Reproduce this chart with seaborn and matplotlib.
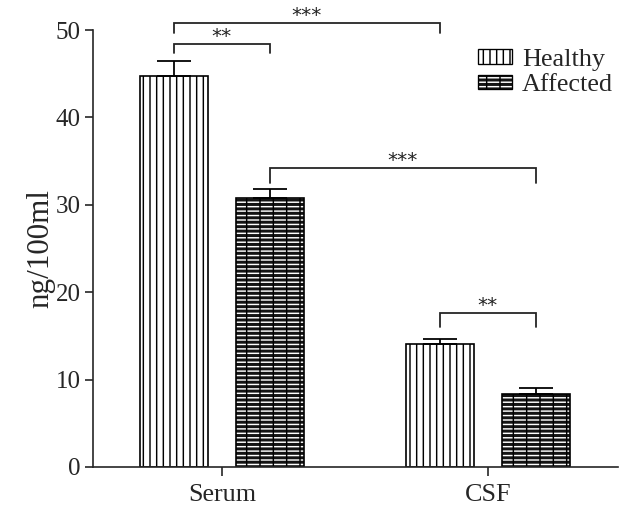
import numpy as np
import pandas as pd
import matplotlib
matplotlib.use("Agg")
import matplotlib.pyplot as plt
from matplotlib.patches import Patch, Rectangle
from matplotlib.legend_handler import HandlerTuple
import seaborn as sns

# values
tissues = ["Serum", "CSF"]
groups = ["Healthy", "Affected"]
healthy_mean = [44.7, 14.1]
healthy_sem = [1.8, 0.55]
affected_mean = [30.8, 8.35]
affected_sem = [1.0, 0.7]

# significance brackets: (group_a, tissue_a, group_b, tissue_b, line y, leg bottom, label)
brackets = [
    ("Healthy", "Serum", "Healthy", "CSF", 50.8, 49.7, "***"),
    ("Healthy", "Serum", "Affected", "Serum", 48.4, 47.4, "**"),
    ("Affected", "Serum", "Affected", "CSF", 34.2, 32.5, "***"),
    ("Healthy", "CSF", "Affected", "CSF", 17.6, 16.0, "**"),
]

sns.set_style("ticks")
plt.rcParams["font.family"] = ["Liberation Serif", "DejaVu Serif"]
plt.rcParams["hatch.linewidth"] = 1.3

df = pd.DataFrame({
    "tissue": tissues * 2,
    "group": ["Healthy"] * 2 + ["Affected"] * 2,
    "value": healthy_mean + affected_mean,
    "sem": healthy_sem + affected_sem,
})

fig = plt.figure(figsize=(7.85, 6.325), dpi=80)
ax = fig.add_axes([0.148, 0.0771, 0.836, 0.8636])

sns.barplot(data=df, x="tissue", y="value", hue="group", order=tissues,
            hue_order=groups, width=0.72, gap=0.29, errorbar=None,
            legend=False, ax=ax)

centers = {}
for grp, cont in zip(groups, ax.containers):
    for tis, p in zip(tissues, cont.patches):
        cx = p.get_x() + p.get_width() / 2
        centers[(grp, tis)] = cx
        if grp == "Healthy":
            p.set_facecolor("white")
            p.set_edgecolor("black")
            p.set_linewidth(1.5)
            p.set_hatch("||")
        else:
            # dark brick-like fill: white rows broken by black verticals
            p.set_facecolor("#141414")
            p.set_edgecolor("white")
            p.set_linewidth(0)
            p.set_hatch("---")
            ax.add_patch(Rectangle(p.get_xy(), p.get_width(), p.get_height(),
                                   facecolor="none", edgecolor="black",
                                   linewidth=1.5, hatch="|", zorder=p.get_zorder() + 0.1))

# upper error bars only
for grp, means, sems in [("Healthy", healthy_mean, healthy_sem),
                         ("Affected", affected_mean, affected_sem)]:
    xs = [centers[(grp, t)] for t in tissues]
    ax.errorbar(xs, means, yerr=[np.zeros(len(sems)), sems], fmt="none",
                ecolor="black", elinewidth=1.6, capsize=15.5, capthick=1.6,
                zorder=1)

for ga, ta, gb, tb, y, y0, lab in brackets:
    x1, x2 = centers[(ga, ta)], centers[(gb, tb)]
    ax.plot([x1, x1, x2, x2], [y0, y, y, y0], color="#222222", lw=1.6,
            clip_on=False, solid_joinstyle="miter")
    ax.text((x1 + x2) / 2, y + 0.85, lab, ha="center", va="center",
            fontsize=18, family="DejaVu Sans", color="#222222")

ax.set_xlim(-0.485, 1.49)
ax.set_ylim(0, 50)
ax.set_yticks([0, 10, 20, 30, 40, 50])
ax.set_xlabel("")
ax.set_ylabel("ng/100ml", fontsize=28, labelpad=0)
ax.tick_params(axis="y", labelsize=22.5, length=7, width=1.5, pad=4)
ax.tick_params(axis="x", labelsize=23.5, length=8, width=1.5, pad=7)
for s in ["left", "bottom"]:
    ax.spines[s].set_linewidth(1.5)
sns.despine(ax=ax)

h1 = Patch(facecolor="white", edgecolor="black", hatch="||", linewidth=1.2)
h2a = Patch(facecolor="#141414", edgecolor="white", hatch="---", linewidth=0)
h2b = Patch(facecolor="none", edgecolor="black", hatch="|", linewidth=1.2)
ax.legend([h1, (h2a, h2b)], groups, handler_map={tuple: HandlerTuple(ndivide=1)},
          loc="upper left", bbox_to_anchor=(0.733, 0.957), frameon=False,
          fontsize=23.5, handlelength=1.3, handleheight=0.45,
          handletextpad=0.4, labelspacing=0.13, borderaxespad=0, borderpad=0)

fig.savefig("out.png", dpi=80)
